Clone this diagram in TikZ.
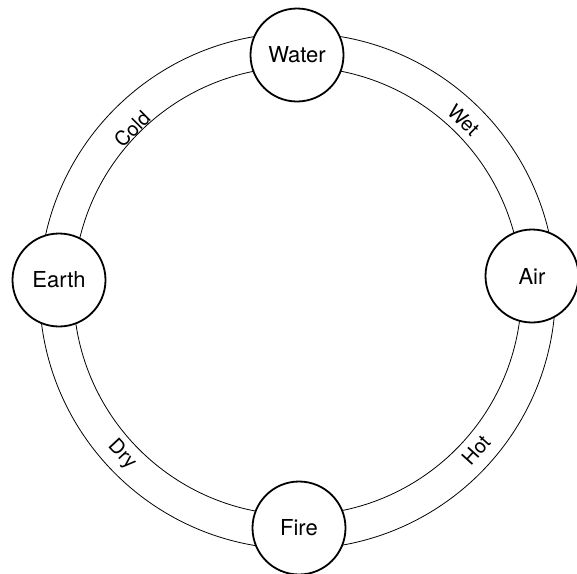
\documentclass[tikz,border=0pt]{standalone}
\usepackage{fontspec}
\setmainfont{TeX Gyre Heros}
\begin{document}
\begin{tikzpicture}[x=1pt,y=1pt,
  elem/.style={circle,draw=black,fill=white,line width=1.8pt,minimum size=93pt,inner sep=0pt,font=\fontsize{22}{22}\selectfont},
  ringline/.style={draw=black,line width=0.8pt},
  qual/.style={inner sep=0pt,font=\fontsize{20}{20}\selectfont}]
\useasboundingbox (0,0) rectangle (577,-573);
\coordinate (c) at (297.5,-291);
\draw[ringline] (c) circle[radius=258];
\draw[ringline] (c) circle[radius=224];
\node[elem] (water) at (297,-55) {Water};
\node[elem] (earth) at (59,-280) {Earth};
\node[elem] (air) at (532,-276) {Air};
\node[elem] (fire) at (299,-528) {Fire};
\node[qual,rotate=-44] (wet) at (463.5,-120) {Wet};
\node[qual,rotate=45] (cold) at (132,-129) {Cold};
\node[qual,rotate=-47] (dry) at (122,-455) {Dry};
\node[qual,rotate=48] (hot) at (476,-450) {Hot};
\end{tikzpicture}
\end{document}
